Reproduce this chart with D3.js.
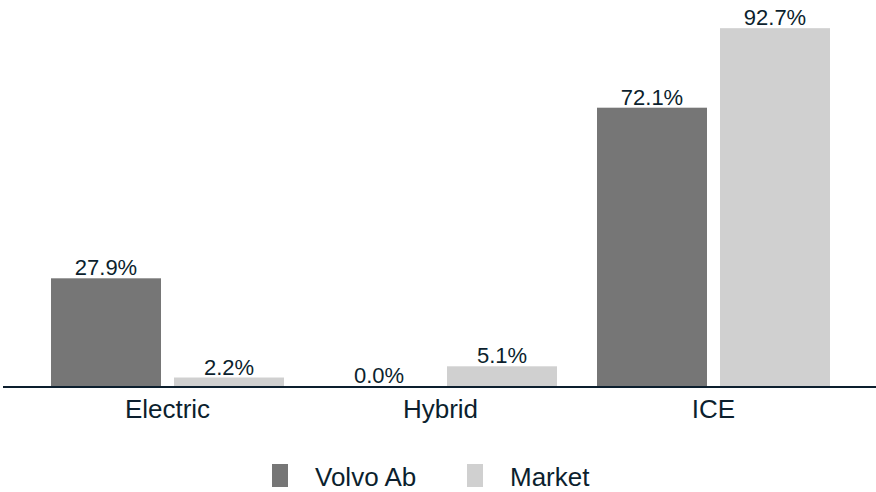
<!DOCTYPE html>
<meta charset="utf-8">
<script src="https://d3js.org/d3.v7.min.js"></script>
<style>
  body { margin: 0; background: #fff; }
  text { font-family: "Liberation Sans", Arial, sans-serif; fill: #0c1f2e; }
</style>
<div id="my_dataviz"></div>
<script>
// data
var categories = ["Electric", "Hybrid", "ICE"];
var series = ["Volvo Ab", "Market"];
var volvoValues = [27.9, 0.0, 72.1];
var marketValues = [2.2, 5.1, 92.7];
var colors = ["#767676", "#d0d0d0"];

var width = 876, height = 492;

var svg = d3.select("#my_dataviz")
  .append("svg")
    .attr("width", width)
    .attr("height", height);

var data = categories.map(function(c, i) {
  return { cat: c, values: [volvoValues[i], marketValues[i]] };
});

// scales
var x0 = d3.scaleBand()
  .domain(categories)
  .range([31, 850])
  .padding(0);

var x1 = d3.scaleBand()
  .domain(series)
  .range([20, 253])
  .paddingInner(0.1057)
  .paddingOuter(0);

var y = d3.scaleLinear()
  .domain([0, 100])
  .range([386, 0]);

// bars
var groups = svg.append("g")
  .selectAll("g")
  .data(data)
  .enter()
  .append("g")
    .attr("transform", function(d) { return "translate(" + x0(d.cat) + ",0)"; });

groups.selectAll("rect")
  .data(function(d) { return d.values.map(function(v, i) { return { s: series[i], v: v, i: i }; }); })
  .enter()
  .append("rect")
    .attr("x", function(d) { return x1(d.s); })
    .attr("y", function(d) { return y(d.v); })
    .attr("width", x1.bandwidth())
    .attr("height", function(d) { return y(0) - y(d.v); })
    .attr("fill", function(d) { return colors[d.i]; });

groups.selectAll("text.val")
  .data(function(d) { return d.values.map(function(v, i) { return { s: series[i], v: v }; }); })
  .enter()
  .append("text")
    .attr("class", "val")
    .attr("x", function(d) { return x1(d.s) + x1.bandwidth() / 2; })
    .attr("y", function(d) { return y(d.v) - 3; })
    .attr("text-anchor", "middle")
    .style("font-size", "22px")
    .text(function(d) { return d.v.toFixed(1) + "%"; });

// x axis
var xAxis = svg.append("g")
  .attr("transform", "translate(0," + y(0) + ")")
  .call(d3.axisBottom(x0).tickSize(0).tickPadding(10));
xAxis.select(".domain")
  .attr("d", "M3,1H876")
  .attr("stroke", "#0c1f2e")
  .attr("stroke-width", 2);
xAxis.selectAll("text")
  .attr("dy", null)
  .attr("y", 32)
  .style("font-size", "26px")
  .style("font-family", "'Liberation Sans', Arial, sans-serif")
  .attr("fill", "#0c1f2e");

// legend
var legendX = [272, 467];
var legend = svg.append("g")
  .selectAll("g")
  .data(series)
  .enter()
  .append("g")
    .attr("transform", function(d, i) { return "translate(" + legendX[i] + ",0)"; });
legend.append("rect")
  .attr("x", 0)
  .attr("y", 464)
  .attr("width", 16)
  .attr("height", 23)
  .attr("fill", function(d, i) { return colors[i]; });
legend.append("text")
  .attr("x", 43)
  .attr("y", 486)
  .style("font-size", "26px")
  .text(function(d) { return d; });
</script>
